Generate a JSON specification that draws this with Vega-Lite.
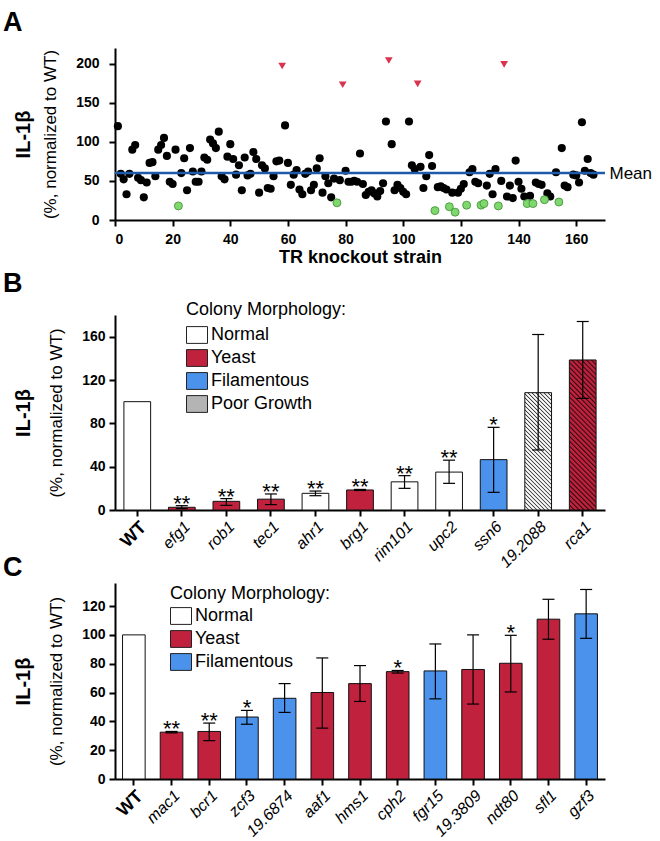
{
  "$schema": "https://vega.github.io/schema/vega-lite/v6.json",
  "padding": {"left": 3, "top": 9, "right": 5, "bottom": 5},
  "bounds": "flush",
  "spacing": 73,
  "resolve": {"scale": {"fill": "independent"}, "legend": {"fill": "independent"}},
  "vconcat": [
    {
      "title": {"text": "A", "offset": 11},
      "width": 490,
      "height": 172,
      "layer": [
        {
          "data": {"values": [
            {"i":1,"v":120,"g":"n"},{"i":2,"v":59,"g":"n"},{"i":3,"v":52,"g":"n"},{"i":4,"v":33,"g":"n"},{"i":5,"v":59,"g":"n"},{"i":6,"v":90,"g":"n"},{"i":7,"v":96,"g":"n"},{"i":8,"v":54,"g":"n"},{"i":9,"v":51,"g":"n"},{"i":10,"v":29,"g":"n"},
            {"i":11,"v":48,"g":"n"},{"i":12,"v":73,"g":"n"},{"i":13,"v":74,"g":"n"},{"i":14,"v":56,"g":"n"},{"i":15,"v":90,"g":"n"},{"i":16,"v":96,"g":"n"},{"i":17,"v":105,"g":"n"},{"i":18,"v":82,"g":"n"},{"i":19,"v":49,"g":"n"},{"i":20,"v":46,"g":"n"},
            {"i":21,"v":90,"g":"n"},{"i":22,"v":18,"g":"l"},{"i":23,"v":60,"g":"n"},{"i":24,"v":79,"g":"n"},{"i":25,"v":38,"g":"n"},{"i":26,"v":92,"g":"n"},{"i":27,"v":62,"g":"n"},{"i":28,"v":49,"g":"n"},{"i":29,"v":49,"g":"n"},{"i":30,"v":62,"g":"n"},
            {"i":31,"v":80,"g":"n"},{"i":32,"v":77,"g":"n"},{"i":33,"v":103,"g":"n"},{"i":34,"v":98,"g":"n"},{"i":35,"v":92,"g":"n"},{"i":36,"v":113,"g":"n"},{"i":37,"v":56,"g":"n"},{"i":38,"v":52,"g":"n"},{"i":39,"v":81,"g":"n"},{"i":40,"v":97,"g":"n"},
            {"i":41,"v":78,"g":"n"},{"i":42,"v":58,"g":"n"},{"i":43,"v":70,"g":"n"},{"i":44,"v":38,"g":"n"},{"i":45,"v":80,"g":"n"},{"i":46,"v":57,"g":"n"},{"i":47,"v":59,"g":"n"},{"i":48,"v":87,"g":"n"},{"i":49,"v":78,"g":"n"},{"i":50,"v":35,"g":"n"},
            {"i":51,"v":70,"g":"n"},{"i":52,"v":66,"g":"n"},{"i":53,"v":41,"g":"n"},{"i":54,"v":40,"g":"n"},{"i":55,"v":56,"g":"n"},{"i":56,"v":75,"g":"n"},{"i":57,"v":76,"g":"n"},{"i":58,"v":197,"g":"h"},{"i":59,"v":121,"g":"n"},{"i":60,"v":73,"g":"n"},
            {"i":61,"v":45,"g":"n"},{"i":62,"v":58,"g":"n"},{"i":63,"v":64,"g":"n"},{"i":64,"v":39,"g":"n"},{"i":65,"v":33,"g":"n"},{"i":66,"v":59,"g":"n"},{"i":67,"v":62,"g":"n"},{"i":68,"v":38,"g":"n"},{"i":69,"v":45,"g":"n"},{"i":70,"v":66,"g":"n"},
            {"i":71,"v":79,"g":"n"},{"i":72,"v":35,"g":"n"},{"i":73,"v":56,"g":"n"},{"i":74,"v":47,"g":"n"},{"i":75,"v":29,"g":"n"},{"i":76,"v":53,"g":"n"},{"i":77,"v":22,"g":"l"},{"i":78,"v":51,"g":"n"},{"i":79,"v":173,"g":"h"},{"i":80,"v":63,"g":"n"},
            {"i":81,"v":49,"g":"n"},{"i":82,"v":49,"g":"n"},{"i":83,"v":50,"g":"n"},{"i":84,"v":49,"g":"n"},{"i":85,"v":85,"g":"n"},{"i":86,"v":46,"g":"n"},{"i":87,"v":32,"g":"n"},{"i":88,"v":36,"g":"n"},{"i":89,"v":38,"g":"n"},{"i":90,"v":34,"g":"n"},
            {"i":91,"v":30,"g":"n"},{"i":92,"v":37,"g":"n"},{"i":93,"v":47,"g":"n"},{"i":94,"v":126,"g":"n"},{"i":95,"v":204,"g":"h"},{"i":96,"v":97,"g":"n"},{"i":97,"v":38,"g":"n"},{"i":98,"v":45,"g":"n"},{"i":99,"v":41,"g":"n"},{"i":100,"v":36,"g":"n"},
            {"i":101,"v":33,"g":"n"},{"i":102,"v":126,"g":"n"},{"i":103,"v":70,"g":"n"},{"i":104,"v":65,"g":"n"},{"i":105,"v":174,"g":"h"},{"i":106,"v":68,"g":"n"},{"i":107,"v":41,"g":"n"},{"i":108,"v":56,"g":"n"},{"i":109,"v":83,"g":"n"},{"i":110,"v":69,"g":"n"},
            {"i":111,"v":12,"g":"l"},{"i":112,"v":42,"g":"n"},{"i":113,"v":43,"g":"n"},{"i":114,"v":41,"g":"n"},{"i":115,"v":39,"g":"n"},{"i":116,"v":17,"g":"l"},{"i":117,"v":35,"g":"n"},{"i":118,"v":10,"g":"l"},{"i":119,"v":35,"g":"n"},{"i":120,"v":40,"g":"n"},
            {"i":121,"v":46,"g":"n"},{"i":122,"v":19,"g":"l"},{"i":123,"v":61,"g":"n"},{"i":124,"v":65,"g":"n"},{"i":125,"v":49,"g":"n"},{"i":126,"v":47,"g":"n"},{"i":127,"v":19,"g":"l"},{"i":128,"v":21,"g":"l"},{"i":129,"v":44,"g":"n"},{"i":130,"v":59,"g":"n"},
            {"i":131,"v":33,"g":"n"},{"i":132,"v":65,"g":"n"},{"i":133,"v":18,"g":"l"},{"i":134,"v":50,"g":"n"},{"i":135,"v":199,"g":"h"},{"i":136,"v":30,"g":"n"},{"i":137,"v":44,"g":"n"},{"i":138,"v":28,"g":"n"},{"i":139,"v":76,"g":"n"},{"i":140,"v":49,"g":"n"},
            {"i":141,"v":40,"g":"n"},{"i":142,"v":30,"g":"n"},{"i":143,"v":21,"g":"l"},{"i":144,"v":31,"g":"n"},{"i":145,"v":21,"g":"l"},{"i":146,"v":48,"g":"n"},{"i":147,"v":46,"g":"n"},{"i":148,"v":45,"g":"n"},{"i":149,"v":26,"g":"l"},{"i":150,"v":34,"g":"n"},
            {"i":151,"v":30,"g":"n"},{"i":153,"v":61,"g":"n"},{"i":154,"v":23,"g":"l"},{"i":155,"v":92,"g":"n"},{"i":156,"v":44,"g":"n"},{"i":157,"v":42,"g":"n"},{"i":159,"v":58,"g":"n"},{"i":160,"v":57,"g":"n"},
            {"i":161,"v":48,"g":"n"},{"i":162,"v":125,"g":"n"},{"i":163,"v":63,"g":"n"},{"i":164,"v":78,"g":"n"},{"i":165,"v":60,"g":"n"},{"i":166,"v":58,"g":"n"}
          ]},
          "encoding": {
            "x": {"field": "i", "type": "quantitative", "scale": {"domain": [0, 170], "nice": false},
                  "axis": {"values": [0,20,40,60,80,100,120,140,160], "title": "TR knockout strain", "titleFontSize": 18, "titleFontWeight": "bold", "labelPadding": 6, "titlePadding": 2}},
            "y": {"field": "v", "type": "quantitative", "scale": {"domain": [0, 220], "nice": false},
                  "axis": {"values": [0,50,100,150,200], "title": "(%, normalized to WT)", "titleFontSize": 17, "titleFontWeight": "normal", "labelPadding": 10, "titlePadding": 16}}
          },
          "layer": [
            {"transform": [{"filter": "datum.g === 'n'"}], "mark": {"type": "circle", "size": 66, "color": "#000000", "opacity": 1}},
            {"transform": [{"filter": "datum.g === 'l'"}], "mark": {"type": "circle", "size": 64, "fill": "#7fd86d", "stroke": "#3e8b34", "strokeWidth": 0.8, "opacity": 1}},
            {"transform": [{"filter": "datum.g === 'h'"}], "mark": {"type": "point", "shape": "triangle-down", "size": 60, "filled": true, "color": "#d8344f", "opacity": 1}}
          ]
        },
        {
          "data": {"values": [{"mean": 60}]},
          "mark": {"type": "rule", "color": "#1f5aa8", "strokeWidth": 2.5},
          "encoding": {
            "y": {"field": "mean", "type": "quantitative", "scale": {"domain": [0, 220], "nice": false},
                  "axis": {"orient": "right", "values": [60], "labelExpr": "'Mean'", "domain": false, "ticks": false, "labelFontSize": 17, "labelFontWeight": "normal", "labelPadding": 4, "title": null}}
          }
        },
        {
          "data": {"values": [{"mean": 60}]},
          "mark": {"type": "rule", "strokeOpacity": 0},
          "encoding": {
            "y": {"field": "mean", "type": "quantitative", "scale": {"domain": [0, 220], "nice": false},
                  "axis": {"orient": "left", "labels": false, "ticks": false, "domain": false, "title": "IL-1β", "titleFontSize": 20, "titleFontWeight": "bold", "offset": 82, "titlePadding": 0, "minExtent": 0}}
          }
        }
      ],
      "resolve": {"scale": {"y": "independent"}}
    },
    {
      "title": {"text": "B", "offset": -5},
      "width": 490,
      "height": 217,
      "data": {"values": [
        {"gene":"WT","val":100,"lo":null,"hi":null,"morph":"Normal","sig":""},
        {"gene":"efg1","val":2.5,"lo":1.3,"hi":4,"morph":"Yeast","sig":"**"},
        {"gene":"rob1","val":8,"lo":4.3,"hi":10.5,"morph":"Yeast","sig":"**"},
        {"gene":"tec1","val":10,"lo":5,"hi":14.8,"morph":"Yeast","sig":"**"},
        {"gene":"ahr1","val":15.4,"lo":13.2,"hi":17.5,"morph":"Normal","sig":"**"},
        {"gene":"brg1","val":18.5,"lo":18,"hi":19,"morph":"Yeast","sig":"**"},
        {"gene":"rim101","val":26,"lo":20,"hi":31.7,"morph":"Normal","sig":"**"},
        {"gene":"upc2","val":35,"lo":24.6,"hi":46,"morph":"Normal","sig":"**"},
        {"gene":"ssn6","val":46.5,"lo":16.3,"hi":76.3,"morph":"Filamentous","sig":"*"},
        {"gene":"19.2088","val":108.3,"lo":55.4,"hi":162,"morph":"Poor Growth","sig":""},
        {"gene":"rca1","val":138.5,"lo":103,"hi":174,"morph":"Yeast","sig":""}
      ]},
      "layer": [
        {
          "encoding": {
            "x": {"field": "gene", "type": "nominal", "sort": null, "scale": {"paddingInner": 0.4, "paddingOuter": 0.2},
                  "axis": {"title": null, "labelAngle": -45, "labelAlign": "right", "labelBaseline": "top", "labelPadding": 2,
                           "labelFontSize": {"condition": {"test": "datum.value === 'WT'", "value": 18}, "value": 16},
                           "labelFontStyle": {"condition": {"test": "datum.value === 'WT'", "value": "normal"}, "value": "italic"},
                           "labelFontWeight": {"condition": {"test": "datum.value === 'WT'", "value": "bold"}, "value": "normal"}}},
            "y": {"field": "val", "type": "quantitative", "scale": {"domain": [0, 180], "nice": false, "range": [217, 22]},
                  "axis": {"values": [0,40,80,120,160], "title": "(%, normalized to WT)", "titleFontSize": 17, "titleFontWeight": "normal", "labelPadding": 4, "titlePadding": 16}}
          },
          "layer": [
            {
              "mark": {"type": "bar", "stroke": "#111111", "strokeWidth": 1},
              "encoding": {
                "fill": {"field": "morph", "type": "nominal",
                         "scale": {"domain": ["Normal", "Yeast", "Filamentous", "Poor Growth"], "range": ["#ffffff", "#c0223d", "#4b92ec", "#b4b4b4"]},
                         "condition": [
                           {"test": "datum.gene === '19.2088'", "value": {"gradient": "linear", "x1": 0, "y1": 1, "x2": 0.2667, "y2": -0.1676, "stops": [
                             {"offset":0,"color":"#333333"},{"offset":0.0097,"color":"#ffffff"},{"offset":0.0208,"color":"#ffffff"},
                             {"offset":0.0278,"color":"#333333"},{"offset":0.0375,"color":"#ffffff"},{"offset":0.0486,"color":"#ffffff"},
                             {"offset":0.0556,"color":"#333333"},{"offset":0.0653,"color":"#ffffff"},{"offset":0.0764,"color":"#ffffff"},
                             {"offset":0.0833,"color":"#333333"},{"offset":0.0931,"color":"#ffffff"},{"offset":0.1042,"color":"#ffffff"},
                             {"offset":0.1111,"color":"#333333"},{"offset":0.1208,"color":"#ffffff"},{"offset":0.1319,"color":"#ffffff"},
                             {"offset":0.1389,"color":"#333333"},{"offset":0.1486,"color":"#ffffff"},{"offset":0.1597,"color":"#ffffff"},
                             {"offset":0.1667,"color":"#333333"},{"offset":0.1764,"color":"#ffffff"},{"offset":0.1875,"color":"#ffffff"},
                             {"offset":0.1944,"color":"#333333"},{"offset":0.2042,"color":"#ffffff"},{"offset":0.2153,"color":"#ffffff"},
                             {"offset":0.2222,"color":"#333333"},{"offset":0.2319,"color":"#ffffff"},{"offset":0.2431,"color":"#ffffff"},
                             {"offset":0.25,"color":"#333333"},{"offset":0.2597,"color":"#ffffff"},{"offset":0.2708,"color":"#ffffff"},
                             {"offset":0.2778,"color":"#333333"},{"offset":0.2875,"color":"#ffffff"},{"offset":0.2986,"color":"#ffffff"},
                             {"offset":0.3056,"color":"#333333"},{"offset":0.3153,"color":"#ffffff"},{"offset":0.3264,"color":"#ffffff"},
                             {"offset":0.3333,"color":"#333333"},{"offset":0.3431,"color":"#ffffff"},{"offset":0.3542,"color":"#ffffff"},
                             {"offset":0.3611,"color":"#333333"},{"offset":0.3708,"color":"#ffffff"},{"offset":0.3819,"color":"#ffffff"},
                             {"offset":0.3889,"color":"#333333"},{"offset":0.3986,"color":"#ffffff"},{"offset":0.4097,"color":"#ffffff"},
                             {"offset":0.4167,"color":"#333333"},{"offset":0.4264,"color":"#ffffff"},{"offset":0.4375,"color":"#ffffff"},
                             {"offset":0.4444,"color":"#333333"},{"offset":0.4542,"color":"#ffffff"},{"offset":0.4653,"color":"#ffffff"},
                             {"offset":0.4722,"color":"#333333"},{"offset":0.4819,"color":"#ffffff"},{"offset":0.4931,"color":"#ffffff"},
                             {"offset":0.5,"color":"#333333"},{"offset":0.5097,"color":"#ffffff"},{"offset":0.5208,"color":"#ffffff"},
                             {"offset":0.5278,"color":"#333333"},{"offset":0.5375,"color":"#ffffff"},{"offset":0.5486,"color":"#ffffff"},
                             {"offset":0.5556,"color":"#333333"},{"offset":0.5653,"color":"#ffffff"},{"offset":0.5764,"color":"#ffffff"},
                             {"offset":0.5833,"color":"#333333"},{"offset":0.5931,"color":"#ffffff"},{"offset":0.6042,"color":"#ffffff"},
                             {"offset":0.6111,"color":"#333333"},{"offset":0.6208,"color":"#ffffff"},{"offset":0.6319,"color":"#ffffff"},
                             {"offset":0.6389,"color":"#333333"},{"offset":0.6486,"color":"#ffffff"},{"offset":0.6597,"color":"#ffffff"},
                             {"offset":0.6667,"color":"#333333"},{"offset":0.6764,"color":"#ffffff"},{"offset":0.6875,"color":"#ffffff"},
                             {"offset":0.6944,"color":"#333333"},{"offset":0.7042,"color":"#ffffff"},{"offset":0.7153,"color":"#ffffff"},
                             {"offset":0.7222,"color":"#333333"},{"offset":0.7319,"color":"#ffffff"},{"offset":0.7431,"color":"#ffffff"},
                             {"offset":0.75,"color":"#333333"},{"offset":0.7597,"color":"#ffffff"},{"offset":0.7708,"color":"#ffffff"},
                             {"offset":0.7778,"color":"#333333"},{"offset":0.7875,"color":"#ffffff"},{"offset":0.7986,"color":"#ffffff"},
                             {"offset":0.8056,"color":"#333333"},{"offset":0.8153,"color":"#ffffff"},{"offset":0.8264,"color":"#ffffff"},
                             {"offset":0.8333,"color":"#333333"},{"offset":0.8431,"color":"#ffffff"},{"offset":0.8542,"color":"#ffffff"},
                             {"offset":0.8611,"color":"#333333"},{"offset":0.8708,"color":"#ffffff"},{"offset":0.8819,"color":"#ffffff"},
                             {"offset":0.8889,"color":"#333333"},{"offset":0.8986,"color":"#ffffff"},{"offset":0.9097,"color":"#ffffff"},
                             {"offset":0.9167,"color":"#333333"},{"offset":0.9264,"color":"#ffffff"},{"offset":0.9375,"color":"#ffffff"},
                             {"offset":0.9444,"color":"#333333"},{"offset":0.9542,"color":"#ffffff"},{"offset":0.9653,"color":"#ffffff"},
                             {"offset":0.9722,"color":"#333333"},{"offset":0.9819,"color":"#ffffff"},{"offset":0.9931,"color":"#ffffff"},
                             {"offset":1,"color":"#333333"}
                           ]}},
                           {"test": "datum.gene === 'rca1'", "value": {"gradient": "linear", "x1": 0, "y1": 1, "x2": 0.2042, "y2": -0.1423, "stops": [
                             {"offset":0,"color":"#2e0a12"},{"offset":0.0097,"color":"#c0223d"},{"offset":0.0208,"color":"#c0223d"},
                             {"offset":0.0278,"color":"#2e0a12"},{"offset":0.0375,"color":"#c0223d"},{"offset":0.0486,"color":"#c0223d"},
                             {"offset":0.0556,"color":"#2e0a12"},{"offset":0.0653,"color":"#c0223d"},{"offset":0.0764,"color":"#c0223d"},
                             {"offset":0.0833,"color":"#2e0a12"},{"offset":0.0931,"color":"#c0223d"},{"offset":0.1042,"color":"#c0223d"},
                             {"offset":0.1111,"color":"#2e0a12"},{"offset":0.1208,"color":"#c0223d"},{"offset":0.1319,"color":"#c0223d"},
                             {"offset":0.1389,"color":"#2e0a12"},{"offset":0.1486,"color":"#c0223d"},{"offset":0.1597,"color":"#c0223d"},
                             {"offset":0.1667,"color":"#2e0a12"},{"offset":0.1764,"color":"#c0223d"},{"offset":0.1875,"color":"#c0223d"},
                             {"offset":0.1944,"color":"#2e0a12"},{"offset":0.2042,"color":"#c0223d"},{"offset":0.2153,"color":"#c0223d"},
                             {"offset":0.2222,"color":"#2e0a12"},{"offset":0.2319,"color":"#c0223d"},{"offset":0.2431,"color":"#c0223d"},
                             {"offset":0.25,"color":"#2e0a12"},{"offset":0.2597,"color":"#c0223d"},{"offset":0.2708,"color":"#c0223d"},
                             {"offset":0.2778,"color":"#2e0a12"},{"offset":0.2875,"color":"#c0223d"},{"offset":0.2986,"color":"#c0223d"},
                             {"offset":0.3056,"color":"#2e0a12"},{"offset":0.3153,"color":"#c0223d"},{"offset":0.3264,"color":"#c0223d"},
                             {"offset":0.3333,"color":"#2e0a12"},{"offset":0.3431,"color":"#c0223d"},{"offset":0.3542,"color":"#c0223d"},
                             {"offset":0.3611,"color":"#2e0a12"},{"offset":0.3708,"color":"#c0223d"},{"offset":0.3819,"color":"#c0223d"},
                             {"offset":0.3889,"color":"#2e0a12"},{"offset":0.3986,"color":"#c0223d"},{"offset":0.4097,"color":"#c0223d"},
                             {"offset":0.4167,"color":"#2e0a12"},{"offset":0.4264,"color":"#c0223d"},{"offset":0.4375,"color":"#c0223d"},
                             {"offset":0.4444,"color":"#2e0a12"},{"offset":0.4542,"color":"#c0223d"},{"offset":0.4653,"color":"#c0223d"},
                             {"offset":0.4722,"color":"#2e0a12"},{"offset":0.4819,"color":"#c0223d"},{"offset":0.4931,"color":"#c0223d"},
                             {"offset":0.5,"color":"#2e0a12"},{"offset":0.5097,"color":"#c0223d"},{"offset":0.5208,"color":"#c0223d"},
                             {"offset":0.5278,"color":"#2e0a12"},{"offset":0.5375,"color":"#c0223d"},{"offset":0.5486,"color":"#c0223d"},
                             {"offset":0.5556,"color":"#2e0a12"},{"offset":0.5653,"color":"#c0223d"},{"offset":0.5764,"color":"#c0223d"},
                             {"offset":0.5833,"color":"#2e0a12"},{"offset":0.5931,"color":"#c0223d"},{"offset":0.6042,"color":"#c0223d"},
                             {"offset":0.6111,"color":"#2e0a12"},{"offset":0.6208,"color":"#c0223d"},{"offset":0.6319,"color":"#c0223d"},
                             {"offset":0.6389,"color":"#2e0a12"},{"offset":0.6486,"color":"#c0223d"},{"offset":0.6597,"color":"#c0223d"},
                             {"offset":0.6667,"color":"#2e0a12"},{"offset":0.6764,"color":"#c0223d"},{"offset":0.6875,"color":"#c0223d"},
                             {"offset":0.6944,"color":"#2e0a12"},{"offset":0.7042,"color":"#c0223d"},{"offset":0.7153,"color":"#c0223d"},
                             {"offset":0.7222,"color":"#2e0a12"},{"offset":0.7319,"color":"#c0223d"},{"offset":0.7431,"color":"#c0223d"},
                             {"offset":0.75,"color":"#2e0a12"},{"offset":0.7597,"color":"#c0223d"},{"offset":0.7708,"color":"#c0223d"},
                             {"offset":0.7778,"color":"#2e0a12"},{"offset":0.7875,"color":"#c0223d"},{"offset":0.7986,"color":"#c0223d"},
                             {"offset":0.8056,"color":"#2e0a12"},{"offset":0.8153,"color":"#c0223d"},{"offset":0.8264,"color":"#c0223d"},
                             {"offset":0.8333,"color":"#2e0a12"},{"offset":0.8431,"color":"#c0223d"},{"offset":0.8542,"color":"#c0223d"},
                             {"offset":0.8611,"color":"#2e0a12"},{"offset":0.8708,"color":"#c0223d"},{"offset":0.8819,"color":"#c0223d"},
                             {"offset":0.8889,"color":"#2e0a12"},{"offset":0.8986,"color":"#c0223d"},{"offset":0.9097,"color":"#c0223d"},
                             {"offset":0.9167,"color":"#2e0a12"},{"offset":0.9264,"color":"#c0223d"},{"offset":0.9375,"color":"#c0223d"},
                             {"offset":0.9444,"color":"#2e0a12"},{"offset":0.9542,"color":"#c0223d"},{"offset":0.9653,"color":"#c0223d"},
                             {"offset":0.9722,"color":"#2e0a12"},{"offset":0.9819,"color":"#c0223d"},{"offset":0.9931,"color":"#c0223d"},
                             {"offset":1,"color":"#2e0a12"}
                           ]}}
                         ],
                         "legend": {"title": "Colony Morphology:", "orient": "none", "legendX": 71, "legendY": 8,
                                    "symbolType": "M-1,-0.8H1V0.8H-1Z", "symbolSize": 441, "symbolStrokeColor": "#222222", "symbolStrokeWidth": 1,
                                    "labelOffset": 3, "rowPadding": 1, "titlePadding": 5}
                }
              }
            },
            {
              "mark": {"type": "tick", "size": 12, "thickness": 1.2, "color": "#000000", "opacity": 1},
              "encoding": {"y": {"field": "lo", "type": "quantitative", "scale": {"domain": [0, 180], "nice": false, "range": [217, 22]}}}
            },
            {
              "mark": {"type": "tick", "size": 12, "thickness": 1.2, "color": "#000000", "opacity": 1},
              "encoding": {"y": {"field": "hi", "type": "quantitative", "scale": {"domain": [0, 180], "nice": false, "range": [217, 22]}}}
            },
            {
              "mark": {"type": "text", "fontSize": 22, "baseline": "alphabetic", "dy": 5, "color": "#000000"},
              "encoding": {"y": {"field": "hi", "type": "quantitative", "scale": {"domain": [0, 180], "nice": false, "range": [217, 22]}}, "text": {"field": "sig"}}
            }
          ]
        },
        {
          "mark": {"type": "rule", "color": "#000000", "strokeWidth": 1.2},
          "encoding": {
            "x": {"field": "gene", "type": "nominal", "sort": null},
            "y": {"field": "lo", "type": "quantitative", "scale": {"domain": [0, 180], "nice": false, "range": [217, 22]},
                  "axis": {"orient": "left", "labels": false, "ticks": false, "domain": false, "title": "IL-1β", "titleFontSize": 20, "titleFontWeight": "bold", "offset": 82, "titlePadding": 0, "minExtent": 0}},
            "y2": {"field": "hi"}
          }
        }
      ],
      "resolve": {"scale": {"y": "independent"}}
    },
    {
      "title": {"text": "C", "offset": -6},
      "width": 490,
      "height": 196,
      "data": {"values": [
        {"gene":"WT","val":100,"lo":null,"hi":null,"morph":"Normal","sig":""},
        {"gene":"mac1","val":32.5,"lo":32,"hi":33,"morph":"Yeast","sig":"**"},
        {"gene":"bcr1","val":33,"lo":26.6,"hi":38.8,"morph":"Yeast","sig":"**"},
        {"gene":"zcf3","val":43,"lo":38,"hi":47.6,"morph":"Filamentous","sig":"*"},
        {"gene":"19.6874","val":56,"lo":46.2,"hi":66.2,"morph":"Filamentous","sig":""},
        {"gene":"aaf1","val":60,"lo":35.3,"hi":84,"morph":"Yeast","sig":""},
        {"gene":"hms1","val":66.2,"lo":53.8,"hi":78.7,"morph":"Yeast","sig":""},
        {"gene":"cph2","val":74.5,"lo":73.5,"hi":75.3,"morph":"Yeast","sig":"*"},
        {"gene":"fgr15","val":75,"lo":55.6,"hi":93.7,"morph":"Filamentous","sig":""},
        {"gene":"19.3809","val":76,"lo":52,"hi":100,"morph":"Yeast","sig":""},
        {"gene":"ndt80","val":80.3,"lo":60.4,"hi":99.7,"morph":"Yeast","sig":"*"},
        {"gene":"sfl1","val":110.9,"lo":97,"hi":124.7,"morph":"Yeast","sig":""},
        {"gene":"gzf3","val":114.6,"lo":97.6,"hi":131.5,"morph":"Filamentous","sig":""}
      ]},
      "layer": [
        {
          "encoding": {
            "x": {"field": "gene", "type": "nominal", "sort": null, "scale": {"paddingInner": 0.4, "paddingOuter": 0.2},
                  "axis": {"title": null, "labelAngle": -45, "labelAlign": "right", "labelBaseline": "top", "labelPadding": 2,
                           "labelFontSize": {"condition": {"test": "datum.value === 'WT'", "value": 18}, "value": 16},
                           "labelFontStyle": {"condition": {"test": "datum.value === 'WT'", "value": "normal"}, "value": "italic"},
                           "labelFontWeight": {"condition": {"test": "datum.value === 'WT'", "value": "bold"}, "value": "normal"}}},
            "y": {"field": "val", "type": "quantitative", "scale": {"domain": [0, 136], "nice": false},
                  "axis": {"values": [0,20,40,60,80,100,120], "title": "(%, normalized to WT)", "titleFontSize": 17, "titleFontWeight": "normal", "labelPadding": 4, "titlePadding": 16}}
          },
          "layer": [
            {
              "mark": {"type": "bar", "stroke": "#111111", "strokeWidth": 1},
              "encoding": {
                "fill": {"field": "morph", "type": "nominal",
                         "scale": {"domain": ["Normal", "Yeast", "Filamentous"], "range": ["#ffffff", "#c0223d", "#4b92ec"]},
                         "legend": {"title": "Colony Morphology:", "orient": "none", "legendX": 55, "legendY": 2,
                                    "symbolType": "M-1,-0.8H1V0.8H-1Z", "symbolSize": 441, "symbolStrokeColor": "#222222", "symbolStrokeWidth": 1,
                                    "labelOffset": 3, "rowPadding": 1, "titlePadding": 2}}
              }
            },
            {
              "mark": {"type": "tick", "size": 12, "thickness": 1.2, "color": "#000000", "opacity": 1},
              "encoding": {"y": {"field": "lo", "type": "quantitative", "scale": {"domain": [0, 136], "nice": false}}}
            },
            {
              "mark": {"type": "tick", "size": 12, "thickness": 1.2, "color": "#000000", "opacity": 1},
              "encoding": {"y": {"field": "hi", "type": "quantitative", "scale": {"domain": [0, 136], "nice": false}}}
            },
            {
              "mark": {"type": "text", "fontSize": 22, "baseline": "alphabetic", "dy": 5, "color": "#000000"},
              "encoding": {"y": {"field": "hi", "type": "quantitative", "scale": {"domain": [0, 136], "nice": false}}, "text": {"field": "sig"}}
            }
          ]
        },
        {
          "mark": {"type": "rule", "color": "#000000", "strokeWidth": 1.2},
          "encoding": {
            "x": {"field": "gene", "type": "nominal", "sort": null},
            "y": {"field": "lo", "type": "quantitative", "scale": {"domain": [0, 136], "nice": false},
                  "axis": {"orient": "left", "labels": false, "ticks": false, "domain": false, "title": "IL-1β", "titleFontSize": 20, "titleFontWeight": "bold", "offset": 82, "titlePadding": 0, "minExtent": 0}},
            "y2": {"field": "hi"}
          }
        }
      ],
      "resolve": {"scale": {"y": "independent"}}
    }
  ],
  "config": {
    "font": "Liberation Sans",
    "view": {"stroke": null},
    "axis": {"grid": false, "domainColor": "#000000", "tickColor": "#000000", "labelColor": "#000000", "titleColor": "#000000",
             "domainWidth": 2, "tickWidth": 2, "tickSize": 6, "labelFontSize": 14, "labelFontWeight": "bold",
             "labelFont": "Liberation Sans", "titleFont": "Liberation Sans"},
    "legend": {"titleFont": "Liberation Sans", "labelFont": "Liberation Sans", "titleFontSize": 18, "labelFontSize": 18,
               "titleFontWeight": "normal", "titleColor": "#000000", "labelColor": "#000000", "titleLimit": 300, "labelLimit": 300},
    "title": {"font": "Liberation Sans", "fontSize": 27, "fontWeight": "bold", "anchor": "start", "frame": "group", "dx": -112, "baseline": "alphabetic", "color": "#000000"}
  }
}
